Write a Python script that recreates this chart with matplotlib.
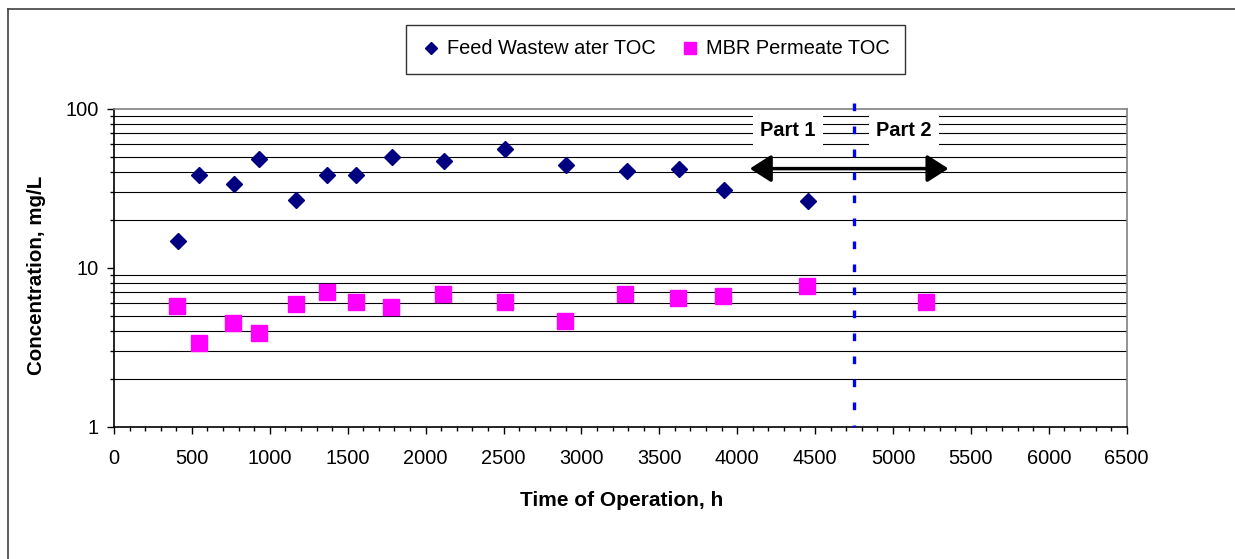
import matplotlib
matplotlib.use('Agg')
import matplotlib.pyplot as plt
from matplotlib.lines import Line2D
from matplotlib import transforms

plt.rcParams['font.family'] = ['Liberation Sans', 'DejaVu Sans']

# Time of operation (h) and TOC (mg/L)
feed_time = [409, 547, 772, 933, 1170, 1369, 1553, 1782, 2116, 2512, 2901, 3291, 3628, 3915, 4452]
feed_toc = [14.8, 38.3, 33.4, 48.3, 26.7, 38.3, 38.3, 49.5, 46.7, 55.6, 44.2, 40.5, 42.0, 30.8, 26.1]

perm_time = [406, 544, 766, 929, 1166, 1365, 1551, 1776, 2114, 2512, 2897, 3282, 3621, 3908, 4445, 5210]
perm_toc = [5.77, 3.37, 4.49, 3.88, 5.94, 7.03, 6.11, 5.64, 6.83, 6.11, 4.62, 6.83, 6.45, 6.64, 7.64, 6.09]

x_ticks = list(range(0, 6501, 500))
y_ticks = [1, 10, 100]
y_grid = [2, 3, 4, 5, 6, 7, 8, 9, 20, 30, 40, 50, 60, 70, 80, 90]

split_time = 4750          # boundary between Part 1 and Part 2
arrow_span = (4081, 5356)
arrow_level = 42
part_labels = [('Part 1', 4326), ('Part 2', 5072)]
part_label_level = 73

W, H = 1235, 559
fig = plt.figure(figsize=(W / 100, H / 100), dpi=100)
ax = fig.add_axes([114 / W, 1 - 426.7 / H, 1012.7 / W, 318 / H])

ax.set_yscale('log')
ax.set_xlim(0, 6500)
ax.set_ylim(1, 100)

for g in y_grid:
    ax.axhline(g, color='black', lw=0.8, zorder=1)

ax.set_xticks(x_ticks)
ax.set_xticks(range(0, 6501, 100), minor=True)
ax.set_yticks(y_ticks)
ax.set_yticklabels([str(v) for v in y_ticks])
ax.set_yticks(y_grid, minor=True)
ax.set_yticklabels([], minor=True)
ax.tick_params(axis='both', which='major', direction='out', length=5, width=1, labelsize=14.4, color='black')
ax.tick_params(axis='both', which='minor', direction='out', length=3, width=1, color='black')
ax.tick_params(axis='x', which='major', pad=11)
ax.tick_params(axis='y', which='major', pad=6)

for side in ['left', 'bottom']:
    ax.spines[side].set_color('black')
    ax.spines[side].set_linewidth(1.2)
for side in ['top', 'right']:
    ax.spines[side].set_color('#808080')
    ax.spines[side].set_linewidth(1.2)

ax.plot(feed_time, feed_toc, linestyle='none', marker='D', ms=8.5, color='#000080',
        mec='#000080', label='Feed Wastew ater TOC', zorder=4)
ax.plot(perm_time, perm_toc, linestyle='none', marker='s', ms=11, color='#FF00FF',
        mec='#FF00FF', label='MBR Permeate TOC', zorder=4)

# dashed divider between the two parts
trans = transforms.blended_transform_factory(ax.transData, ax.transAxes)
ax.plot([split_time, split_time], [1.017, 0], transform=trans, color='#0000FF', lw=2.4,
        linestyle=(0, (2.3, 4.6)), clip_on=False, zorder=5)

# double-headed arrow
ax.annotate('', xy=(arrow_span[0], arrow_level), xytext=(arrow_span[1], arrow_level),
            arrowprops=dict(arrowstyle='<|-|>,head_length=1.3,head_width=0.83', mutation_scale=10,
                            color='black', lw=2.5, shrinkA=0, shrinkB=0), zorder=5)

for text, xpos in part_labels:
    ax.text(xpos, part_label_level, text, ha='center', va='center', fontsize=14.4,
            fontweight='bold', zorder=6,
            bbox=dict(boxstyle='square,pad=0.35', facecolor='white', edgecolor='none'))

fig.text(622 / W, 1 - 500 / H, 'Time of Operation, h', ha='center', va='center',
         fontsize=15, fontweight='bold')
fig.text(36.7 / W, 1 - 275 / H, 'Concentration, mg/L', ha='center', va='center',
         rotation=90, fontsize=14.8, fontweight='bold')

leg = fig.legend(loc='center', bbox_to_anchor=(655.5 / W, 1 - 49 / H), ncol=2,
                 fontsize=14.4, frameon=True, fancybox=False, markerscale=0.75,
                 handlelength=1.0, handletextpad=0.3, columnspacing=1.2, borderpad=0.75)
leg.get_frame().set_edgecolor('black')
leg.get_frame().set_linewidth(1.0)

# outer chart frame
fig.add_artist(Line2D([8 / W, 1], [1 - 9 / H, 1 - 9 / H], color='#404040', lw=1.2))
fig.add_artist(Line2D([8 / W, 8 / W], [0, 1 - 9 / H], color='#404040', lw=1.2))

fig.savefig('out.png', dpi=100)
